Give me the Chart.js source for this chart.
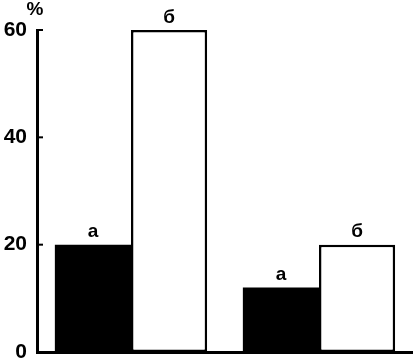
<html>
  <head>
    <meta charset="UTF-8">
    <title>Bars</title>
    <script src="https://cdn.jsdelivr.net/npm/chart.js@4.4.0/dist/chart.umd.min.js"></script>
    <style>
      body { margin: 0; background: #fff; }
      .chartWrapper { width: 413px; height: 359px; }
    </style>
  </head>
  <body>
    <div class="chartWrapper">
      <canvas id="chartBars" width="413" height="359"></canvas>
    </div>

    <script>
      const categories = ['1', '2'];
      const valuesBlack = [20, 12];
      const valuesWhite = [60, 20];
      const labelsBlack = ['а', 'а'];
      const labelsWhite = ['б', 'б'];
      const yTicks = [0, 20, 40, 60];
      const unitLabel = '%';

      const fontFamily = '"Liberation Sans", Arial, sans-serif';

      // small ticks pointing into the plot, plus the "%" and the letters over the bars
      const decorations = {
        id: 'decorations',
        afterDatasetsDraw(chart) {
          const ctx = chart.ctx;
          const y = chart.scales.y;
          ctx.save();
          ctx.strokeStyle = '#000';
          ctx.lineWidth = 2;
          for (let v of yTicks) {
            if (v === 0) continue;
            const py = y.getPixelForValue(v);
            ctx.beginPath();
            ctx.moveTo(chart.chartArea.left, py);
            ctx.lineTo(chart.chartArea.left + 6, py);
            ctx.stroke();
          }

          ctx.fillStyle = '#000';
          ctx.font = 'bold 19px ' + fontFamily;
          ctx.textAlign = 'center';
          ctx.textBaseline = 'bottom';
          const letterSets = [labelsBlack, labelsWhite];
          chart.data.datasets.forEach((ds, i) => {
            const meta = chart.getDatasetMeta(i);
            meta.data.forEach((bar, j) => {
              ctx.fillText(letterSets[i][j], bar.x, bar.y - 3);
            });
          });

          ctx.font = 'bold 19px ' + fontFamily;
          ctx.fillText(unitLabel, chart.chartArea.left - 2, 19);
          ctx.restore();
        }
      };

      new Chart(document.getElementById('chartBars'), {
        type: 'bar',
        data: {
          labels: categories,
          datasets: [{
            data: valuesBlack,
            backgroundColor: '#000',
            borderColor: '#000',
            borderWidth: 0,
            categoryPercentage: 0.81,
            barPercentage: 1.0,
          }, {
            data: valuesWhite,
            backgroundColor: '#fff',
            borderColor: '#000',
            borderWidth: 2.5,
            borderSkipped: false,
            categoryPercentage: 0.81,
            barPercentage: 1.0,
          }]
        },
        options: {
          responsive: false,
          animation: false,
          layout: {
            padding: { top: 30, right: 0, left: 0, bottom: 0 }
          },
          plugins: {
            legend: { display: false },
            tooltip: { enabled: false },
          },
          scales: {
            x: {
              grid: { display: false, drawTicks: false },
              border: { display: true, color: '#000', width: 3 },
              ticks: { display: false },
              afterFit(scale) {
                scale.height = 7;
                scale.paddingLeft = 0;
                scale.paddingRight = 0;
              },
            },
            y: {
              min: 0,
              max: 60,
              grid: { display: false, drawTicks: false },
              border: { display: true, color: '#000', width: 3 },
              ticks: {
                stepSize: 20,
                padding: 10,
                color: '#000',
                font: { family: fontFamily, size: 21, weight: 'bold' },
              },
              afterFit(scale) {
                scale.width = 37;
                scale.paddingTop = 0;
                scale.paddingBottom = 0;
              },
            }
          }
        },
        plugins: [decorations]
      });
    </script>
  </body>
</html>
